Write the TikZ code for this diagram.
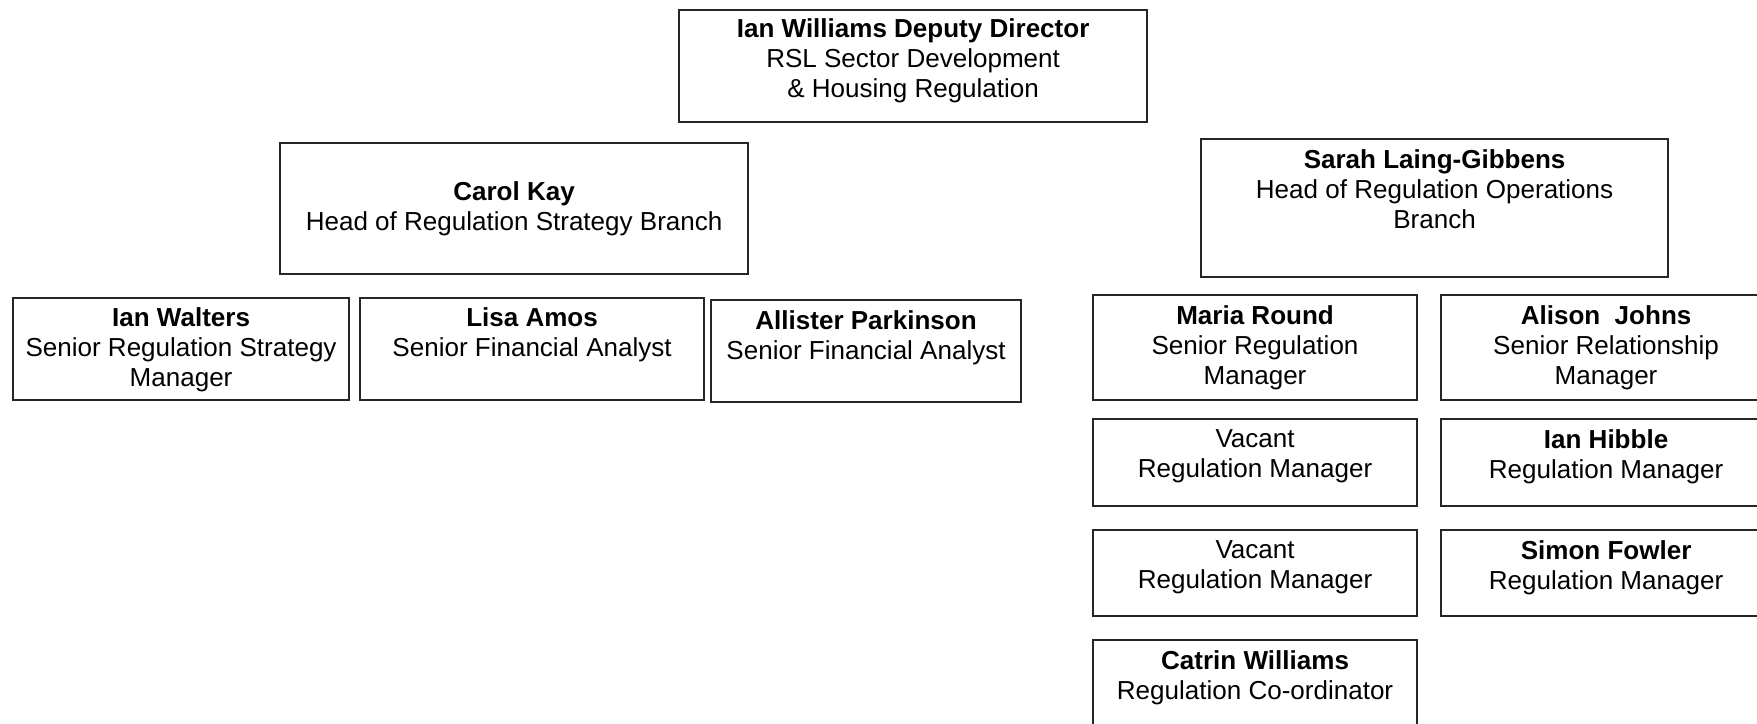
\documentclass[tikz,border=0pt]{standalone}
\usepackage{fontspec}
\setmainfont{Liberation Sans}
\usetikzlibrary{positioning}

\tikzset{
	post/.style={draw=black!85, line width=0.55pt, inner sep=0pt, anchor=north west},
	role/.style={align=center, inner sep=0pt, font=\fontsize{7.4}{8.5}\selectfont},
}

\begin{document}
\begin{tikzpicture}[x=0.01cm,y=0.01cm]
	\useasboundingbox (0,0) rectangle (1757,-723);
	% director
	\node[post, minimum width=4.68cm, minimum height=1.12cm] (dir) at (678,-9) {};
	\node[role, below=0.09cm of dir.north] (dirT) {\textbf{Ian Williams Deputy Director}\\RSL Sector Development\\\& Housing Regulation};
	% strategy branch
	\node[post, minimum width=4.68cm, minimum height=1.31cm] (carol) at (279,-142) {};
	\node[role, below=0.39cm of carol.north] (carolT) {\textbf{Carol Kay}\\Head of Regulation Strategy Branch};
	\node[post, minimum width=3.36cm, minimum height=1.02cm] (walters) at (12,-297) {};
	\node[role, below=0.10cm of walters.north] (waltersT) {\textbf{Ian Walters}\\Senior Regulation Strategy\\Manager};
	\node[post, minimum width=3.44cm, minimum height=1.02cm] (amos) at (359,-297) {};
	\node[role, below=0.10cm of amos.north] (amosT) {\textbf{Lisa Amos}\\Senior Financial Analyst};
	\node[post, minimum width=3.10cm, minimum height=1.02cm] (parkinson) at (710,-299) {};
	\node[role, below=0.11cm of parkinson.north] (parkinsonT) {\textbf{Allister Parkinson}\\Senior Financial Analyst};
	% operations branch
	\node[post, minimum width=4.67cm, minimum height=1.38cm] (sarah) at (1200,-138) {};
	\node[role, below=0.11cm of sarah.north] (sarahT) {\textbf{Sarah Laing-Gibbens}\\Head of Regulation Operations\\Branch};
	\node[post, minimum width=3.24cm, minimum height=1.05cm] (round) at (1092,-294) {};
	\node[role, below=0.11cm of round.north] (roundT) {\textbf{Maria Round}\\Senior Regulation\\Manager};
	\node[post, minimum width=3.30cm, minimum height=1.05cm] (johns) at (1440,-294) {};
	\node[role, below=0.11cm of johns.north] (johnsT) {\textbf{Alison\ \ Johns}\\Senior Relationship\\Manager};
	\node[post, minimum width=3.24cm, minimum height=0.87cm] (vacA) at (1092,-418) {};
	\node[role, below=0.11cm of vacA.north] (vacAT) {Vacant\\Regulation Manager};
	\node[post, minimum width=3.30cm, minimum height=0.87cm] (hibble) at (1440,-418) {};
	\node[role, below=0.11cm of hibble.north] (hibbleT) {\textbf{Ian Hibble}\\Regulation Manager};
	\node[post, minimum width=3.24cm, minimum height=0.86cm] (vacB) at (1092,-529) {};
	\node[role, below=0.11cm of vacB.north] (vacBT) {Vacant\\Regulation Manager};
	\node[post, minimum width=3.30cm, minimum height=0.86cm] (fowler) at (1440,-529) {};
	\node[role, below=0.11cm of fowler.north] (fowlerT) {\textbf{Simon Fowler}\\Regulation Manager};
	\node[post, minimum width=3.24cm, minimum height=1.00cm] (williams) at (1092,-639) {};
	\node[role, below=0.11cm of williams.north] (williamsT) {\textbf{Catrin Williams}\\Regulation Co-ordinator};
\end{tikzpicture}
\end{document}
